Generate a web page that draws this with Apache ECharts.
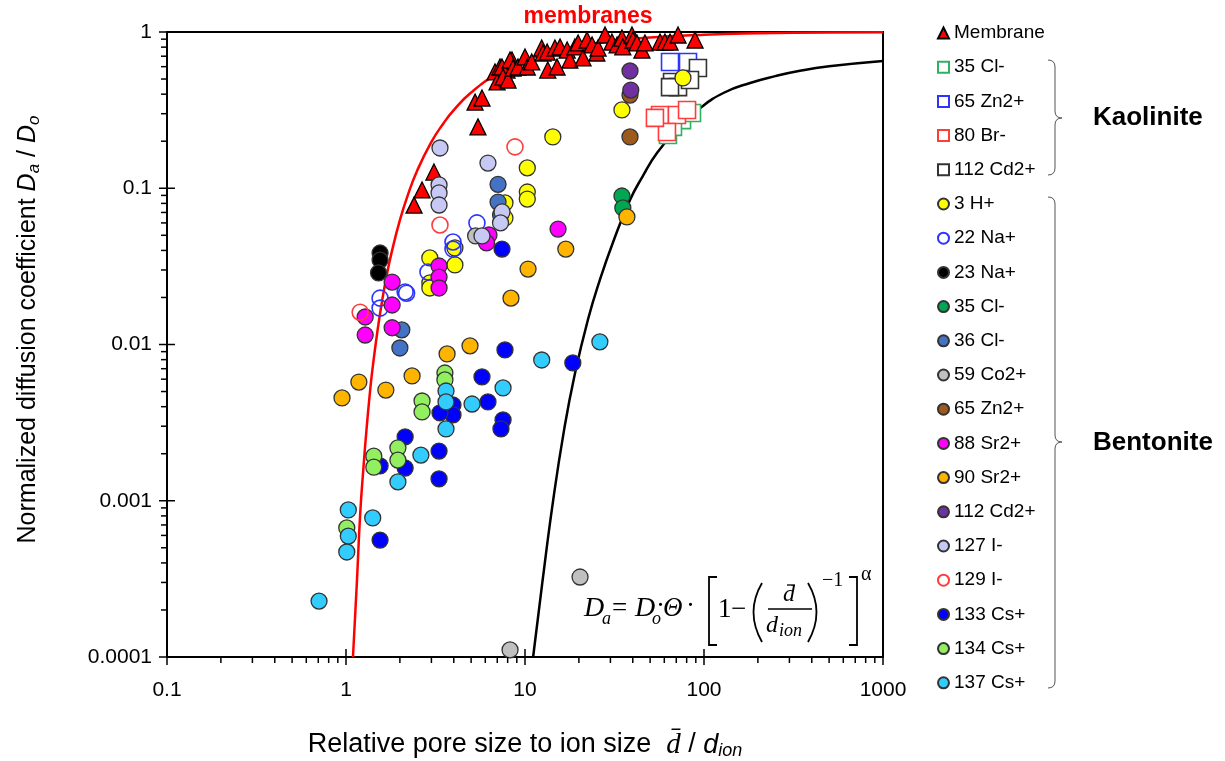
<!DOCTYPE html>
<html><head><meta charset="utf-8">
<script src="https://cdn.jsdelivr.net/npm/echarts@6/dist/echarts.min.js"></script>
<style>html,body{margin:0;padding:0;background:#fff}#c{width:1225px;height:761px}</style>
</head><body><div id="c"></div>
<script>
// ---- axis ticks ----
const xTicks = [0.1, 1, 10, 100, 1000];
const xTickLabels = ['0.1', '1', '10', '100', '1000'];
const yTicks = [0.0001, 0.001, 0.01, 0.1, 1];
const yTickLabels = ['0.0001', '0.001', '0.01', '0.1', '1'];

// ---- model curves ----
const redCurve = [[1.094,0.0001],[1.15,0.0003],[1.2,0.00082],[1.25,0.0016],[1.3,0.0028],[1.35,0.0045],[1.4,0.0067],[1.5,0.0123],[1.6,0.0198],[1.7,0.0288],[1.8,0.039],[2,0.0625],[2.2,0.0885],[2.5,0.13],[3,0.198],[3.5,0.26],[4,0.316],[5,0.41],[7,0.54],[10,0.656],[15,0.759],[20,0.815],[30,0.873],[50,0.922],[100,0.961],[200,0.98],[500,0.992],[1000,0.996]];
const blackCurve = [[11.1,0.0001],[12.5,0.0003],[14.3,0.00097],[16.5,0.0028],[19,0.0065],[22.5,0.0145],[26.2,0.0259],[31,0.045],[38.6,0.0841],[45.6,0.12],[54.6,0.168],[70,0.235],[95,0.325],[130,0.41],[181,0.472],[250,0.522],[344,0.565],[500,0.603],[1000,0.652]];

// ---- data ----
const membrane = [[2.40,0.078],[2.66,0.0975],[3.10,0.127],[5.46,0.247],[5.26,0.356],[5.75,0.378],[6.80,0.555],[6.98,0.479],[7.25,0.597],[7.93,0.571],[7.93,0.508],[8.46,0.662],[7.44,0.597],[7.54,0.515],[8.04,0.493],[8.25,0.662],[8.57,0.588],[9.14,0.597],[10,0.692],[10.3,0.597],[10.9,0.643],[12.4,0.790],[12.6,0.734],[13.3,0.745],[13.4,0.571],[14.7,0.790],[15.1,0.597],[15.7,0.802],[17.2,0.767],[17.8,0.662],[19.0,0.802],[19.8,0.851],[21.1,0.682],[22.2,0.889],[23.7,0.826],[25.2,0.734],[25.6,0.790],[28.0,0.957],[30.6,0.863],[32.7,0.826],[34.8,0.915],[35.2,0.802],[39.6,0.957],[40.1,0.889],[42.2,0.851],[45.0,0.767],[46.8,0.851],[56.8,0.863],[60.5,0.863],[64.6,0.863],[71.6,0.957],[89.1,0.889]];
const kCl35 = [[62.9,0.219],[75.4,0.273],[85.7,0.303],[67.1,0.247]];
const kZn65 = [[64.6,0.643],[81.4,0.643]];
const kBr80 = [[56.8,0.294],[70.6,0.294],[80.4,0.317],[62.1,0.229],[53.2,0.282]];
const kCd112 = [[92.5,0.588],[66.3,0.479],[71.6,0.444],[83.5,0.493],[64.6,0.444]];
const bH3 = [[76.3,0.508],[34.8,0.317],[14.3,0.213],[10.3,0.135],[10.3,0.0946],[10.3,0.0853],[7.73,0.0805],[7.73,0.0645],[4.06,0.0415],[4.06,0.0323],[2.94,0.0358],[2.94,0.0248],[2.94,0.023]];
const bNa22 = [[5.39,0.06],[3.96,0.0453],[3.96,0.0408],[2.87,0.0291],[2.14,0.0217],[2.18,0.0213],[1.55,0.0198],[1.55,0.0171]];
const bNa23 = [[1.55,0.0385],[1.55,0.0347],[1.52,0.0287]];
const bCl35 = [[34.8,0.0892],[35.2,0.0748]];
const bCl36 = [[7.07,0.106],[7.07,0.0816],[7.3,0.0674],[2.05,0.0124],[2.0,0.0095]];
const bCo59 = [[20.3,0.000325],[8.25,0.000111],[5.3,0.0495]];
const bZn65 = [[38.6,0.213],[38.6,0.395]];
const bSr88 = [[3.31,0.0318],[3.31,0.027],[3.31,0.023],[1.81,0.0251],[1.81,0.0179],[1.81,0.0128],[1.28,0.015],[1.28,0.0115],[6.29,0.0502],[6.1,0.0447],[15.3,0.0548]];
const bSr90 = [[37.1,0.0655],[16.9,0.0408],[10.4,0.0304],[8.35,0.0198],[4.93,0.0098],[3.67,0.0087],[2.34,0.00629],[1.18,0.00575],[1.67,0.00511],[0.95,0.00455]];
const bCd112 = [[38.6,0.563],[39,0.425]];
const bI127 = [[3.35,0.181],[6.21,0.145],[3.31,0.105],[3.31,0.0933],[3.31,0.0781],[7.44,0.0705],[7.3,0.06],[5.75,0.0495]];
const bI129 = [[8.79,0.184],[3.35,0.0582],[1.2,0.0161]];
const bCs133 = [[7.44,0.0408],[7.73,0.00923],[18.5,0.00762],[5.75,0.0062],[6.21,0.00429],[7.54,0.00329],[7.34,0.00288],[3.96,0.0041],[3.96,0.00354],[3.35,0.00365],[2.14,0.00256],[2.14,0.00162],[1.55,0.00167],[3.31,0.00208],[3.31,0.00138],[1.55,0.00056]];
const bCs134 = [[3.57,0.00657],[3.57,0.00593],[2.66,0.00435],[2.66,0.0037],[1.95,0.00218],[1.95,0.00182],[1.43,0.00193],[1.43,0.00164],[1.01,0.00067]];
const bCs137 = [[3.62,0.00504],[3.62,0.00429],[3.62,0.00288],[5.06,0.00416],[7.54,0.00527],[2.62,0.00196],[1.95,0.00132],[1.03,0.000873],[1.03,0.000594],[1.01,0.00047],[1.41,0.000776],[0.707,0.000228],[12.4,0.00796],[26.2,0.0104]];

// ---- series definitions ----
const groups = [
  {name:'Membrane', data:membrane, symbol:'triangle', color:'#ff0000', border:'#000', open:false},
  {name:'K 35 Cl-', data:kCl35, symbol:'rect', color:'#2db35f', open:true},
  {name:'K 65 Zn2+', data:kZn65, symbol:'rect', color:'#2b35ff', open:true},
  {name:'K 80 Br-', data:kBr80, symbol:'rect', color:'#ff3c3c', open:true},
  {name:'K 112 Cd2+', data:kCd112, symbol:'rect', color:'#333333', open:true},
  {name:'3 H+', data:bH3, symbol:'circle', color:'#ffff00'},
  {name:'22 Na+', data:bNa22, symbol:'circle', color:'#2b35ff', open:true},
  {name:'23 Na+', data:bNa23, symbol:'circle', color:'#000000'},
  {name:'35 Cl-', data:bCl35, symbol:'circle', color:'#00a651'},
  {name:'36 Cl-', data:bCl36, symbol:'circle', color:'#4472c4'},
  {name:'59 Co2+', data:bCo59, symbol:'circle', color:'#c0c0c0'},
  {name:'65 Zn2+', data:bZn65, symbol:'circle', color:'#9c5a1c'},
  {name:'88 Sr2+', data:bSr88, symbol:'circle', color:'#ff00ff'},
  {name:'90 Sr2+', data:bSr90, symbol:'circle', color:'#ffb400'},
  {name:'112 Cd2+', data:bCd112, symbol:'circle', color:'#7030a0'},
  {name:'127 I-', data:bI127, symbol:'circle', color:'#c8c8f5'},
  {name:'129 I-', data:bI129, symbol:'circle', color:'#ff3c3c', open:true},
  {name:'133 Cs+', data:bCs133, symbol:'circle', color:'#0000ff'},
  {name:'134 Cs+', data:bCs134, symbol:'circle', color:'#92f060'},
  {name:'137 Cs+', data:bCs137, symbol:'circle', color:'#33ccff'}
];

// tick marks (major cross axis; minor outside)
const xTickMarks = [], yTickMarks = [];
xTicks.forEach((t, i) => {
  xTickMarks.push([t, 0.0001, 1]);
  if (i < xTicks.length - 1) for (let m = 2; m <= 9; m++) xTickMarks.push([t * m, 0.0001, 0]);
});
yTicks.forEach((t, i) => {
  yTickMarks.push([0.1, t, 1]);
  if (i < yTicks.length - 1) for (let m = 2; m <= 9; m++) yTickMarks.push([0.1, t * m, 0]);
});

function labelFor(v, ticks, labels) {
  let best = 0, bd = Infinity;
  ticks.forEach((t, i) => { const d = Math.abs(Math.log10(v) - Math.log10(t)); if (d < bd) { bd = d; best = i; } });
  return labels[best];
}

const SANS = '"Liberation Sans", Arial, sans-serif';
const SERIF = '"Liberation Serif", "DejaVu Serif", serif';

const series = [
  {type:'line', data:redCurve, showSymbol:false, symbol:'none', smooth:0.5, clip:true,
   lineStyle:{color:'#ff0000', width:2.5}, silent:true, z:1},
  {type:'line', data:blackCurve, showSymbol:false, symbol:'none', smooth:0.5, clip:true,
   lineStyle:{color:'#000000', width:2.5}, silent:true, z:1},
  {type:'custom', silent:true, data:xTickMarks, z:5,
   renderItem(params, api) {
     const p = api.coord([api.value(0), api.value(1)]);
     const major = api.value(2) === 1;
     return {type:'line', shape:{x1:p[0], y1:p[1] - (major ? 8 : 0), x2:p[0], y2:p[1] + (major ? 8 : 6)},
             style:{stroke:'#000', lineWidth:1.5}};
   }},
  {type:'custom', silent:true, data:yTickMarks, z:5,
   renderItem(params, api) {
     const p = api.coord([api.value(0), api.value(1)]);
     const major = api.value(2) === 1;
     return {type:'line', shape:{x1:p[0] - (major ? 8 : 6), y1:p[1], x2:p[0] + (major ? 8 : 0), y2:p[1]},
             style:{stroke:'#000', lineWidth:1.5}};
   }}
];
groups.forEach(g => {
  const size = g.symbol === 'rect' ? 17 : 16;
  series.push({
    type:'scatter', name:g.name, data:g.data, symbol:g.symbol, symbolSize:size, z:3,
    itemStyle: g.open
      ? {color: g.symbol === 'rect' ? '#ffffff' : 'rgba(255,255,255,0)', borderColor:g.color, borderWidth:1.6, opacity:1}
      : {color:g.color, borderColor:g.border || '#333', borderWidth:1.3, opacity:1}
  });
});

const chart = echarts.init(document.getElementById('c'), null, {renderer:'canvas'});

function txt(x, y, text, size, opts) {
  return {type:'text', x:x, y:y, silent:true, z:10,
    style:{text:text, font:(opts && opts.font) || ('italic ' + size + 'px ' + SERIF), fill:'#000',
      verticalAlign:'middle', align:'left'}};
}
function ln(x1, y1, x2, y2, w, c) {
  return {type:'line', silent:true, z:10, shape:{x1, y1, x2, y2}, style:{stroke:c || '#000', lineWidth:w || 1.6}};
}
function qc(x1, y1, cx, cy, x2, y2, w, c) {
  return {type:'bezierCurve', silent:true, z:10, shape:{x1, y1, x2, y2, cpx1:cx, cpy1:cy}, style:{stroke:c || '#000', fill:null, lineWidth:w || 1.6}};
}
function pl(points, w) {
  return {type:'polyline', silent:true, z:10, shape:{points}, style:{stroke:'#000', fill:null, lineWidth:w || 1.8}};
}
function brace(top, mid, bot) {
  const c = '#555', w = 1;
  return [
    qc(1048, top, 1055, top, 1055, top + 7, w, c),
    ln(1055, top + 7, 1055, mid - 7, w, c),
    qc(1055, mid - 7, 1055, mid, 1062, mid, w, c),
    qc(1062, mid, 1055, mid, 1055, mid + 7, w, c),
    ln(1055, mid + 7, 1055, bot - 7, w, c),
    qc(1055, bot - 7, 1055, bot, 1048, bot, w, c)
  ];
}

chart.setOption({
  animation:false,
  backgroundColor:'#fff',
  grid:{left:167, right:342, top:32, bottom:104, show:true, borderColor:'#000', borderWidth:2,
        backgroundColor:'transparent', containLabel:false, outerBoundsMode:'none'},
  xAxis:{type:'log', logBase:10, min:0.1, max:1000,
    axisLine:{lineStyle:{color:'#000', width:2}}, axisTick:{show:false}, splitLine:{show:false},
    axisLabel:{color:'#000', fontSize:21, fontFamily:SANS, margin:23, formatter:v => labelFor(v, xTicks, xTickLabels)},
    name:'{t|Relative pore size to ion size  }{m|d\u0304}{t| / }{i|d}{s|ion}', nameLocation:'middle', nameGap:73,
    nameTextStyle:{rich:{
      t:{fontSize:27, fontFamily:SANS, color:'#000', lineHeight:30},
      m:{fontSize:29, fontFamily:SERIF, fontStyle:'italic', color:'#000', lineHeight:30},
      i:{fontSize:27, fontFamily:SANS, fontStyle:'italic', color:'#000', lineHeight:30},
      s:{fontSize:18, fontFamily:SANS, fontStyle:'italic', color:'#000', lineHeight:17, verticalAlign:'bottom'}
    }}},
  yAxis:{type:'log', logBase:10, min:0.0001, max:1,
    axisLine:{lineStyle:{color:'#000', width:2}}, axisTick:{show:false}, splitLine:{show:false},
    axisLabel:{color:'#000', fontSize:21, fontFamily:SANS, margin:15, formatter:v => labelFor(v, yTicks, yTickLabels)},
    name:'{t|Normalized diffusion coefficient }{i|D}{s|a}{t| / }{i|D}{s|o}', nameLocation:'middle', nameGap:124, nameRotate:90,
    nameTextStyle:{padding:[0,0,0,30], rich:{
      t:{fontSize:25, fontFamily:SANS, color:'#000', lineHeight:30},
      i:{fontSize:25, fontFamily:SANS, fontStyle:'italic', color:'#000', lineHeight:30},
      s:{fontSize:17, fontFamily:SANS, fontStyle:'italic', color:'#000', lineHeight:17, verticalAlign:'bottom'}
    }}},
  legend:{orient:'vertical', left:932, top:18, itemWidth:11, itemHeight:11, itemGap:14.2,
    data:groups.map(g => g.name),
    formatter:n => n.replace(/^K /, ''),
    textStyle:{fontSize:19, fontFamily:SANS, color:'#000', lineHeight:20}},
  series:series,
  graphic:[
    {type:'text', x:588, y:17, silent:true, style:{text:'membranes', font:'bold 23px ' + SANS, fill:'#ff0000', align:'center', verticalAlign:'middle'}},
    {type:'text', x:1093, y:118, silent:true, style:{text:'Kaolinite', font:'bold 26px ' + SANS, fill:'#000', align:'left', verticalAlign:'middle'}},
    {type:'text', x:1093, y:443, silent:true, style:{text:'Bentonite', font:'bold 26px ' + SANS, fill:'#000', align:'left', verticalAlign:'middle'}}
  ].concat(brace(60, 118, 175), brace(197, 442, 688), [
    // formula
    txt(584, 609, 'D', 28),
    txt(602, 619, 'a', 18),
    txt(612, 609, '=', 27, {font:'27px ' + SERIF}),
    txt(635, 609, 'D', 28),
    txt(652, 619, 'o', 18),
    txt(656, 607, '\u00b7', 27, {font:'27px ' + SERIF}),
    txt(663, 609, '\u0398', 27),
    txt(686, 607, '\u00b7', 27, {font:'27px ' + SERIF}),
    pl([[717,577],[709,577],[709,645],[717,645]]),
    txt(718, 610, '1', 27, {font:'27px ' + SERIF}),
    txt(731, 610, '\u2212', 27, {font:'27px ' + SERIF}),
    qc(762, 583, 745, 612, 762, 642, 1.8),
    txt(783, 595, 'd', 24),
    ln(787, 585, 795, 585, 1.3),
    ln(768, 609, 812, 609, 1.4),
    txt(766, 626, 'd', 24),
    txt(779, 631, 'ion', 18),
    qc(808, 583, 825, 612, 808, 642, 1.8),
    txt(822, 581, '\u22121', 20, {font:'20px ' + SERIF}),
    pl([[849,577],[857,577],[857,645],[849,645]]),
    txt(861, 575, '\u03b1', 20, {font:'20px ' + SERIF})
  ])
});
</script>
</body></html>
